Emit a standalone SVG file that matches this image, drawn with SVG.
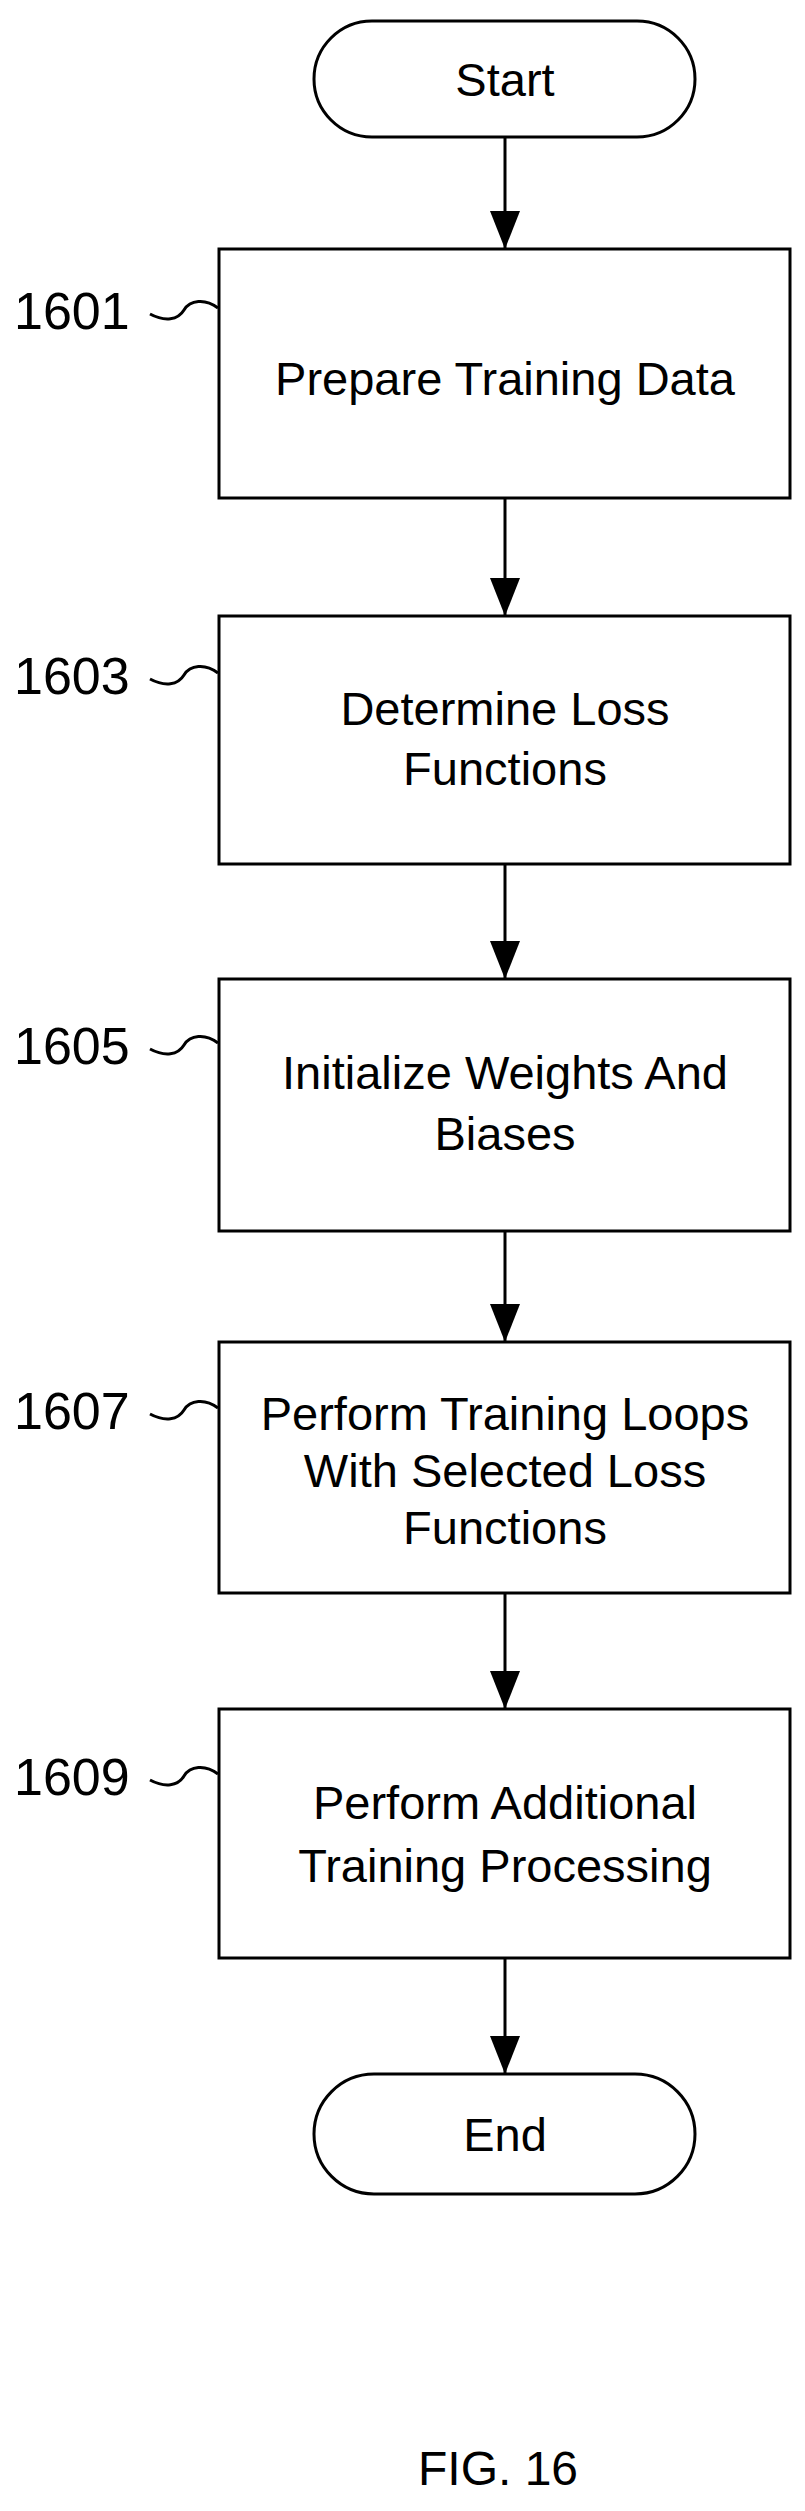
<svg xmlns="http://www.w3.org/2000/svg" width="805" height="2511" viewBox="0 0 805 2511">
<style>
.s{fill:#fff;stroke:#000;stroke-width:3}
.t{font-family:"Liberation Sans",Arial,sans-serif;font-size:47px;text-anchor:middle;fill:#000}
.l{font-family:"Liberation Sans",Arial,sans-serif;font-size:52px;fill:#000}
.c{fill:none;stroke:#000;stroke-width:3}
</style>
<defs>
<marker id="ah" viewBox="0 0 38 30" refX="38" refY="15" markerWidth="38" markerHeight="30" orient="auto" markerUnits="userSpaceOnUse"><path d="M0,0L38,15L0,30z" fill="#000"/></marker></defs>
<g id="connectors">
<line class="c" x1="505" y1="137" x2="505" y2="249" marker-end="url(#ah)"/>
<line class="c" x1="505" y1="498" x2="505" y2="616" marker-end="url(#ah)"/>
<line class="c" x1="505" y1="864" x2="505" y2="979" marker-end="url(#ah)"/>
<line class="c" x1="505" y1="1231" x2="505" y2="1342" marker-end="url(#ah)"/>
<line class="c" x1="505" y1="1593" x2="505" y2="1709" marker-end="url(#ah)"/>
<line class="c" x1="505" y1="1958" x2="505" y2="2074" marker-end="url(#ah)"/>
</g>
<g id="start"><rect class="s" x="314" y="21" width="381" height="116" rx="58"/><text class="t" x="505" y="96">Start</text></g>
<g id="n1601"><rect class="s" x="219" y="249" width="571" height="249"/><text class="t" x="505" y="395">Prepare Training Data</text>
<text class="l" x="14" y="329">1601</text><path class="c" d="M150,314 C165,322 178,320 184,310 C190,300 205,298 218,308"/></g>
<g id="n1603"><rect class="s" x="219" y="616" width="571" height="248"/><text class="t" x="505" y="725">Determine Loss</text><text class="t" x="505" y="785">Functions</text>
<text class="l" x="14" y="694">1603</text><path class="c" d="M150,679 C165,687 178,685 184,675 C190,665 205,663 218,673"/></g>
<g id="n1605"><rect class="s" x="219" y="979" width="571" height="252"/><text class="t" x="505" y="1089">Initialize Weights And</text><text class="t" x="505" y="1150">Biases</text>
<text class="l" x="14" y="1064">1605</text><path class="c" d="M150,1049 C165,1057 178,1055 184,1045 C190,1035 205,1033 218,1043"/></g>
<g id="n1607"><rect class="s" x="219" y="1342" width="571" height="251"/><text class="t" x="505" y="1430">Perform Training Loops</text><text class="t" x="505" y="1487">With Selected Loss</text><text class="t" x="505" y="1544">Functions</text>
<text class="l" x="14" y="1429">1607</text><path class="c" d="M150,1414 C165,1422 178,1420 184,1410 C190,1400 205,1398 218,1408"/></g>
<g id="n1609"><rect class="s" x="219" y="1709" width="571" height="249"/><text class="t" x="505" y="1819">Perform Additional</text><text class="t" x="505" y="1882">Training Processing</text>
<text class="l" x="14" y="1795">1609</text><path class="c" d="M150,1780 C165,1788 178,1786 184,1776 C190,1766 205,1764 218,1774"/></g>
<g id="end"><rect class="s" x="314" y="2074" width="381" height="120" rx="60"/><text class="t" x="505" y="2151">End</text></g>
<text class="l" x="498" y="2485" text-anchor="middle" style="font-size:48px">FIG. 16</text>
</svg>
